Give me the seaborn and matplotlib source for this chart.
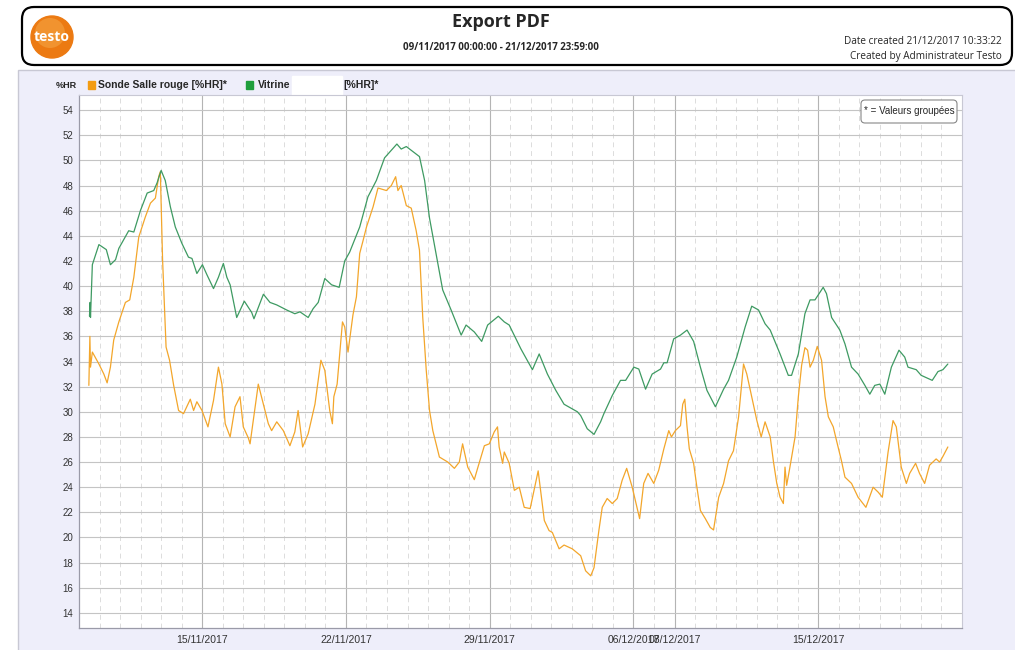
import pandas as pd
import matplotlib
matplotlib.use("Agg")
import matplotlib.pyplot as plt
import matplotlib.dates as mdates
import seaborn as sns
from matplotlib.patches import FancyBboxPatch, Rectangle, Circle

# jours depuis le 09/11/2017 00:00 et humidite relative (%HR)
jours_vitrine = [0.51, 0.54, 0.56, 0.65, 0.97, 1.33, 1.53, 1.78, 1.94, 2.42, 2.67, 2.99,
                 3.32, 3.64, 3.80, 4.00, 4.20, 4.45, 4.69, 5.01, 5.33, 5.50, 5.74, 6.01,
                 6.23, 6.55, 6.79, 7.03, 7.20, 7.36, 7.68, 8.05, 8.41, 8.52, 8.98, 9.30,
                 9.63, 10.11, 10.51, 10.76, 11.16, 11.40, 11.65, 11.97, 12.30, 12.67, 12.94,
                 13.18, 13.67, 14.07, 14.48, 14.88, 15.48, 15.69, 15.94, 16.26, 16.58, 16.83,
                 17.07, 17.71, 18.12, 18.61, 18.85, 19.25, 19.61, 19.90, 20.42, 20.71, 20.95,
                 21.52, 22.08, 22.41, 22.81, 23.22, 23.62, 24.27, 24.43, 24.75, 25.08, 25.40,
                 25.56, 25.97, 26.37, 26.62, 27.02, 27.26, 27.59, 27.91, 28.32, 28.48, 28.64,
                 28.96, 29.29, 29.61, 29.93, 30.26, 30.58, 30.99, 31.39, 31.63, 32.03, 32.44,
                 32.76, 33.09, 33.41, 33.66, 34.14, 34.54, 34.70, 35.03, 35.35, 35.60, 35.84,
                 36.08, 36.24, 36.40, 36.65, 37.05, 37.30, 37.62, 37.94, 38.27, 38.51, 38.75,
                 39.00, 39.24, 39.56, 39.93, 40.21, 40.37, 40.77, 41.01, 41.55, 41.83, 42.07,
                 42.31]
hr_vitrine = [37.6, 38.7, 37.5, 41.7, 43.3, 42.9, 41.7, 42.1, 43.0, 44.4, 44.3, 46.0,
              47.4, 47.6, 48.2, 49.2, 48.4, 46.3, 44.7, 43.4, 42.3, 42.2, 41.0, 41.7,
              40.9, 39.8, 40.7, 41.8, 40.7, 40.1, 37.5, 38.8, 37.9, 37.4, 39.35, 38.7,
              38.5, 38.1, 37.8, 37.95, 37.5, 38.2, 38.7, 40.6, 40.1, 39.9, 42.0,
              42.7, 44.7, 47.1, 48.4, 50.2, 51.3, 50.9, 51.1, 50.7, 50.3, 48.4,
              45.4, 39.7, 38.1, 36.1, 36.9, 36.35, 35.6, 36.9, 37.6, 37.15, 36.9,
              35.0, 33.35, 34.6, 33.0, 31.7, 30.6, 30.0, 29.7, 28.65, 28.2, 29.2,
              29.85, 31.3, 32.5, 32.5, 33.55, 33.4, 31.8, 33.0, 33.4, 33.9, 33.9,
              35.8, 36.1, 36.5, 35.6, 33.55, 31.7, 30.4, 31.8, 32.5, 34.35, 36.75,
              38.4, 38.1, 37.0, 36.5, 34.6, 32.9, 32.9, 34.6, 37.8, 38.9, 38.9,
              39.5, 39.9, 39.4, 37.5, 36.5, 35.4, 33.55, 33.0, 32.1, 31.4, 32.1,
              32.2, 31.4, 33.55, 34.9, 34.35, 33.55, 33.35, 32.9, 32.5, 33.2, 33.35,
              33.8]

jours_sonde = [0.48, 0.53, 0.56, 0.65, 0.97, 1.21, 1.37, 1.53, 1.69, 1.94, 2.26, 2.47,
               2.67, 2.91, 3.23, 3.48, 3.72, 3.88, 3.96, 4.07, 4.24, 4.41, 4.61, 4.85,
               5.09, 5.42, 5.58, 5.74, 5.99, 6.28, 6.55, 6.79, 6.96, 7.12, 7.36, 7.60,
               7.84, 8.00, 8.25, 8.33, 8.73, 8.98, 9.22, 9.38, 9.63, 9.95, 10.27, 10.51,
               10.67, 10.89, 11.16, 11.49, 11.78, 11.97, 12.21, 12.34, 12.41, 12.57, 12.83,
               12.94, 13.10, 13.34, 13.51, 13.67, 13.83, 14.00, 14.32, 14.56, 14.97, 15.21,
               15.42, 15.53, 15.69, 15.94, 16.18, 16.42, 16.58, 16.74, 16.91, 17.07, 17.23,
               17.55, 17.96, 18.28, 18.52, 18.68, 18.93, 19.25, 19.41, 19.74, 19.98, 20.22,
               20.38, 20.46, 20.63, 20.71, 20.95, 21.20, 21.44, 21.68, 21.97, 22.36, 22.66,
               22.89, 23.05, 23.38, 23.62, 24.02, 24.43, 24.67, 24.92, 25.08, 25.32, 25.48,
               25.72, 25.97, 26.21, 26.45, 26.67, 26.94, 27.13, 27.30, 27.50, 27.71, 27.99,
               28.23, 28.48, 28.72, 28.85, 29.04, 29.29, 29.40, 29.50, 29.61, 29.72, 29.93,
               30.09, 30.26, 30.50, 30.74, 30.90, 31.15, 31.39, 31.63, 31.87, 32.12, 32.36,
               32.52, 32.76, 33.01, 33.22, 33.41, 33.66, 33.82, 33.98, 34.14, 34.30, 34.38,
               34.46, 34.62, 34.87, 35.03, 35.19, 35.35, 35.48, 35.60, 35.76, 35.95, 36.16,
               36.33, 36.49, 36.73, 36.89, 37.13, 37.30, 37.62, 37.94, 38.32, 38.67, 38.92,
               39.12, 39.40, 39.64, 39.80, 40.04, 40.29, 40.45, 40.74, 40.93, 41.18, 41.42,
               41.74, 41.91, 42.07, 42.31]
hr_sonde = [32.1, 36.0, 33.55, 34.75, 33.8, 33.0, 32.3, 33.55, 35.7, 37.15, 38.7, 38.9,
            40.7, 43.9, 45.5, 46.6, 47.0, 48.7, 49.1, 42.1, 35.15, 34.1, 32.1, 30.1,
            29.85, 31.0, 30.1, 30.8, 30.1, 28.8, 30.9, 33.55, 32.2, 29.05, 28.0, 30.4,
            31.2, 28.8, 27.9, 27.45, 32.2, 30.6, 29.05, 28.5, 29.2, 28.5, 27.3, 28.4,
            30.1, 27.2, 28.25, 30.6, 34.1, 33.3, 30.1, 29.05, 31.2, 32.2, 37.15,
            36.75, 34.75, 37.7, 39.15, 42.6, 43.6, 44.7, 46.3, 47.8, 47.6, 48.0,
            48.7, 47.6, 48.0, 46.4, 46.2, 44.4, 42.85, 37.5, 33.3, 30.1, 28.5,
            26.4, 26.0, 25.5, 26.0, 27.45, 25.6, 24.6, 25.5, 27.3, 27.45, 28.4,
            28.8, 27.2, 25.9, 26.8, 25.9, 23.75, 24.0, 22.4, 22.3, 25.3, 21.35,
            20.55, 20.4, 19.1, 19.4, 19.1, 18.55, 17.35, 16.95, 17.6, 20.6, 22.4,
            23.1, 22.7, 23.1, 24.55, 25.5, 24.0, 22.7, 21.5, 24.3, 25.1, 24.3,
            25.35, 27.05, 28.5, 28.0, 28.5, 28.9, 30.6, 31.0, 28.8, 27.05, 25.9,
            24.0, 22.15, 21.5, 20.8, 20.6, 23.2, 24.3, 26.1, 26.9, 29.6, 33.8,
            33.0, 31.2, 29.3, 28.0, 29.2, 28.0, 26.0, 24.3, 23.2, 22.7, 25.6,
            24.15, 25.6, 28.0, 31.2, 33.7, 35.1, 34.9, 33.55, 34.1, 35.2, 34.1,
            31.2, 29.6, 28.8, 27.7, 26.1, 24.8, 24.3, 23.2, 22.4, 24.0, 23.6,
            23.2, 26.8, 29.3, 28.8, 25.6, 24.3, 25.1, 25.9, 25.1, 24.3, 25.75,
            26.25, 26.0, 26.45, 27.2]

dates_majeures = ["2017-11-15", "2017-11-22", "2017-11-29", "2017-12-06", "2017-12-08", "2017-12-15"]
etiquettes_x = ["15/11/2017", "22/11/2017", "29/11/2017", "06/12/2017", "08/12/2017", "15/12/2017"]
graduations_y = list(range(14, 56, 2))

debut = pd.Timestamp("2017-11-09 00:00")
fin = pd.Timestamp("2017-12-21 23:59")

vitrine = pd.DataFrame({"date": debut + pd.to_timedelta(jours_vitrine, unit="D"), "hr": hr_vitrine})
sonde = pd.DataFrame({"date": debut + pd.to_timedelta(jours_sonde, unit="D"), "hr": hr_sonde})

sns.set_style("white")
plt.rcParams["font.family"] = ["Liberation Sans", "DejaVu Sans"]
entete = ["Open Sans", "DejaVu Sans"]

col_orange = "#f3a62b"
col_vert = "#3e9a62"

fig = plt.figure(figsize=(10.15, 6.5), dpi=100)

# fond : en-tete + panneau lavande (coordonnees en pixels)
fond = fig.add_axes([0, 0, 1, 1], zorder=0)
fond.set_xlim(0, 1015)
fond.set_ylim(650, 0)
fond.axis("off")
fond.add_patch(Rectangle((18, 70), 1000, 590, facecolor="#eeeefa", edgecolor="#c8c8d4", lw=1))
fond.add_patch(FancyBboxPatch((22, 7), 990, 58, boxstyle="round,pad=0,rounding_size=12",
                              facecolor="white", edgecolor="black", lw=1.6))
fond.add_patch(Circle((52, 37), 21, color="#ec7a12"))
fond.add_patch(Circle((50, 33), 15, color="#f5a444", alpha=0.6, lw=0))
fond.text(52, 37, "testo", color="white", fontsize=10, fontweight="bold", ha="center",
          va="center", family=entete)
fond.text(501, 22, "Export PDF", fontsize=13, fontweight="bold", ha="center", va="center",
          family=entete)
fond.text(501, 48, "09/11/2017 00:00:00 - 21/12/2017 23:59:00", fontsize=7, fontweight="bold",
          ha="center", va="center", family=entete)
fond.text(1002, 41, "Date created 21/12/2017 10:33:22", fontsize=7.2, ha="right", va="center",
          family=entete)
fond.text(1002, 56, "Created by Administrateur Testo", fontsize=7.2, ha="right", va="center",
          family=entete)

# legende
fond.text(77, 85, "%HR", fontsize=6.5, fontweight="bold", ha="right", va="center")
fond.add_patch(Rectangle((88, 81), 7, 8, color="#f39c12"))
fond.text(98, 85, "Sonde Salle rouge [%HR]*", fontsize=7.5, fontweight="bold", va="center")
fond.add_patch(Rectangle((246, 81), 7, 8, color="#1f9e3c"))
fond.text(258, 85, "Vitrine", fontsize=7.5, fontweight="bold", va="center")
fond.add_patch(Rectangle((292, 76), 50, 19, color="white"))
fond.text(343, 85, "[%HR]*", fontsize=7.5, fontweight="bold", va="center")

ax = fig.add_axes([79 / 1015, 1 - 628 / 650, 883 / 1015, 533 / 650], zorder=1)
ax.set_facecolor("white")

sns.lineplot(data=sonde, x="date", y="hr", ax=ax, color=col_orange, linewidth=0.9,
             estimator=None, sort=False, zorder=3)
sns.lineplot(data=vitrine, x="date", y="hr", ax=ax, color=col_vert, linewidth=0.9,
             estimator=None, sort=False, zorder=3)

ax.set_xlim(debut, fin)
ax.set_ylim(12.8, 55.2)
ax.set_xlabel("")
ax.set_ylabel("")

ax.set_yticks(graduations_y)
ax.set_xticks(pd.to_datetime(dates_majeures))
ax.set_xticklabels(etiquettes_x)
ax.xaxis.set_minor_locator(mdates.DayLocator())

ax.grid(axis="y", which="major", color="#c4c4c4", lw=0.8)
ax.grid(axis="x", which="major", color="#b4b4b4", lw=0.8)
ax.grid(axis="x", which="minor", color="#dcdcdc", lw=0.7, ls=(0, (5, 4)))
ax.set_axisbelow(True)

ax.tick_params(axis="y", length=3, width=0.6, color="#888888", pad=1, labelsize=7, labelcolor="#333333")
ax.tick_params(axis="x", which="both", length=0, pad=5, labelsize=7.5, labelcolor="#333333")

for cote in ["left", "bottom"]:
    ax.spines[cote].set_color("#9a9aa8")
    ax.spines[cote].set_linewidth(0.9)
for cote in ["top", "right"]:
    ax.spines[cote].set_color("#c8c8d4")
    ax.spines[cote].set_linewidth(0.8)

# cartouche "* = Valeurs groupees" (pixels de la figure, dessine dans ax pour rester au-dessus)
ax.add_patch(FancyBboxPatch((861, 100), 96, 23, boxstyle="round,pad=0,rounding_size=4",
                            transform=fond.transData, facecolor="white", edgecolor="#888888",
                            lw=0.8, clip_on=False, zorder=5))
ax.text(909, 111.5, "* = Valeurs groupées", transform=fond.transData, fontsize=7,
        ha="center", va="center", zorder=6)

fig.savefig("out.png", dpi=100)
